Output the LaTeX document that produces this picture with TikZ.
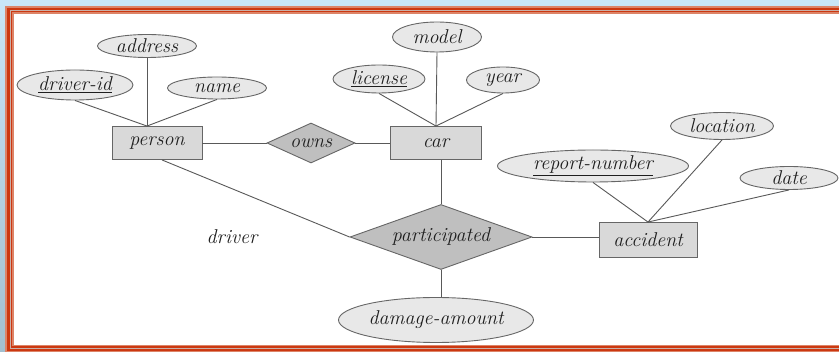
\documentclass[tikz,border=0pt]{standalone}
\usepackage{tikz}
\usetikzlibrary{shapes.geometric,positioning,calc}

\definecolor{skytop}{HTML}{C9E6F7}
\definecolor{skybot}{HTML}{A3BFCF}
\definecolor{salmon}{HTML}{DC8468}
\definecolor{brick}{HTML}{CC3810}
\definecolor{frgray}{HTML}{C9B0A8}
\definecolor{ink}{HTML}{1E1E1E}

\tikzset{
  entity/.style={draw=black!60, fill=black!15, line width=0.9pt, inner sep=0pt},
  attr/.style={ellipse, draw=black!60, fill=black!9, line width=0.9pt, inner sep=0pt},
  rel/.style={diamond, aspect=2.8, draw=black!60, fill=black!25, line width=0.9pt, inner sep=0pt},
  link/.style={draw=black!65, line width=0.9pt},
}

\begin{document}
\begin{tikzpicture}[x=1pt,y=-1pt,font=\fontsize{20}{23}\selectfont\itshape,text=ink]
  \useasboundingbox (0,0) rectangle (839,352);
  \shade[top color=skytop, bottom color=skybot] (0,0) rectangle (839,352);
  \fill[salmon] (5,6) rectangle (870,353);
  \fill[brick] (7,8) rectangle (870,351);
  \fill[frgray] (9.5,10) rectangle (870,349);
  \fill[brick] (10.5,11) rectangle (870,348);
  \fill[salmon] (12,12.5) rectangle (870,346.5);
  \fill[white] (13.5,14) rectangle (870,345.5);

  % entities
  \node[entity, minimum width=90pt, minimum height=33pt] (person) at (157,143) {person};
  \node[entity, minimum width=91pt, minimum height=33pt] (car) at (436,143) {car};
  \node[entity, minimum width=98pt, minimum height=35pt] (accident) at (648,240) {accident};

  % relationships
  \node[rel, minimum width=88pt, minimum height=40pt] (owns) at (311,143) {owns};
  \node[rel, minimum width=182pt, minimum height=65pt] (participated) at (441,237) {participated};

  % attributes
  \node[attr, minimum width=99pt, minimum height=23pt] (address) at (147,46) {address};
  \node[attr, minimum width=116pt, minimum height=30pt] (driverid) at (75,85) {\underline{driver-id}};
  \node[attr, minimum width=99pt, minimum height=22pt] (name) at (217,88) {name};
  \node[attr, minimum width=89pt, minimum height=30pt] (model) at (437,37) {model};
  \node[attr, minimum width=92pt, minimum height=28pt] (license) at (379,79) {\underline{license}};
  \node[attr, minimum width=73pt, minimum height=26pt] (year) at (503,80) {year};
  \node[attr, minimum width=191pt, minimum height=32pt] (reportno) at (593,166) {\underline{report-number}};
  \node[attr, minimum width=103pt, minimum height=27pt] (location) at (722,126) {location};
  \node[attr, minimum width=98pt, minimum height=23pt] (date) at (789,178) {date};
  \node[attr, minimum width=195pt, minimum height=45pt] (damage) at (436,320) {damage-amount};

  \node (driver) at (232,237) {driver};

  \coordinate (pjoin) at ($(person.north)+(-10,0)$);
  \coordinate (pfoot) at ($(person.south)+(5,0)$);

  \draw[link] (driverid.south) -- (pjoin);
  \draw[link] (address.south) -- (pjoin);
  \draw[link] (name.south) -- (pjoin);
  \draw[link] (license.south) -- (car.north);
  \draw[link] (model.south) -- (car.north);
  \draw[link] (year.south) -- (car.north);
  \draw[link] (reportno.south) -- (accident.north);
  \draw[link] (location.south) -- (accident.north);
  \draw[link] (date.south) -- (accident.north);

  \draw[link] (person.east) -- (owns.west);
  \draw[link] (owns.east) -- (car.west);
  \draw[link] (pfoot) -- (participated.west);
  \draw[link] (participated.north) -- (participated.north |- car.south);
  \draw[link] (participated.east) -- (participated.east -| accident.west);
  \draw[link] (participated.south) -- (participated.south |- damage.north);
\end{tikzpicture}
\end{document}
